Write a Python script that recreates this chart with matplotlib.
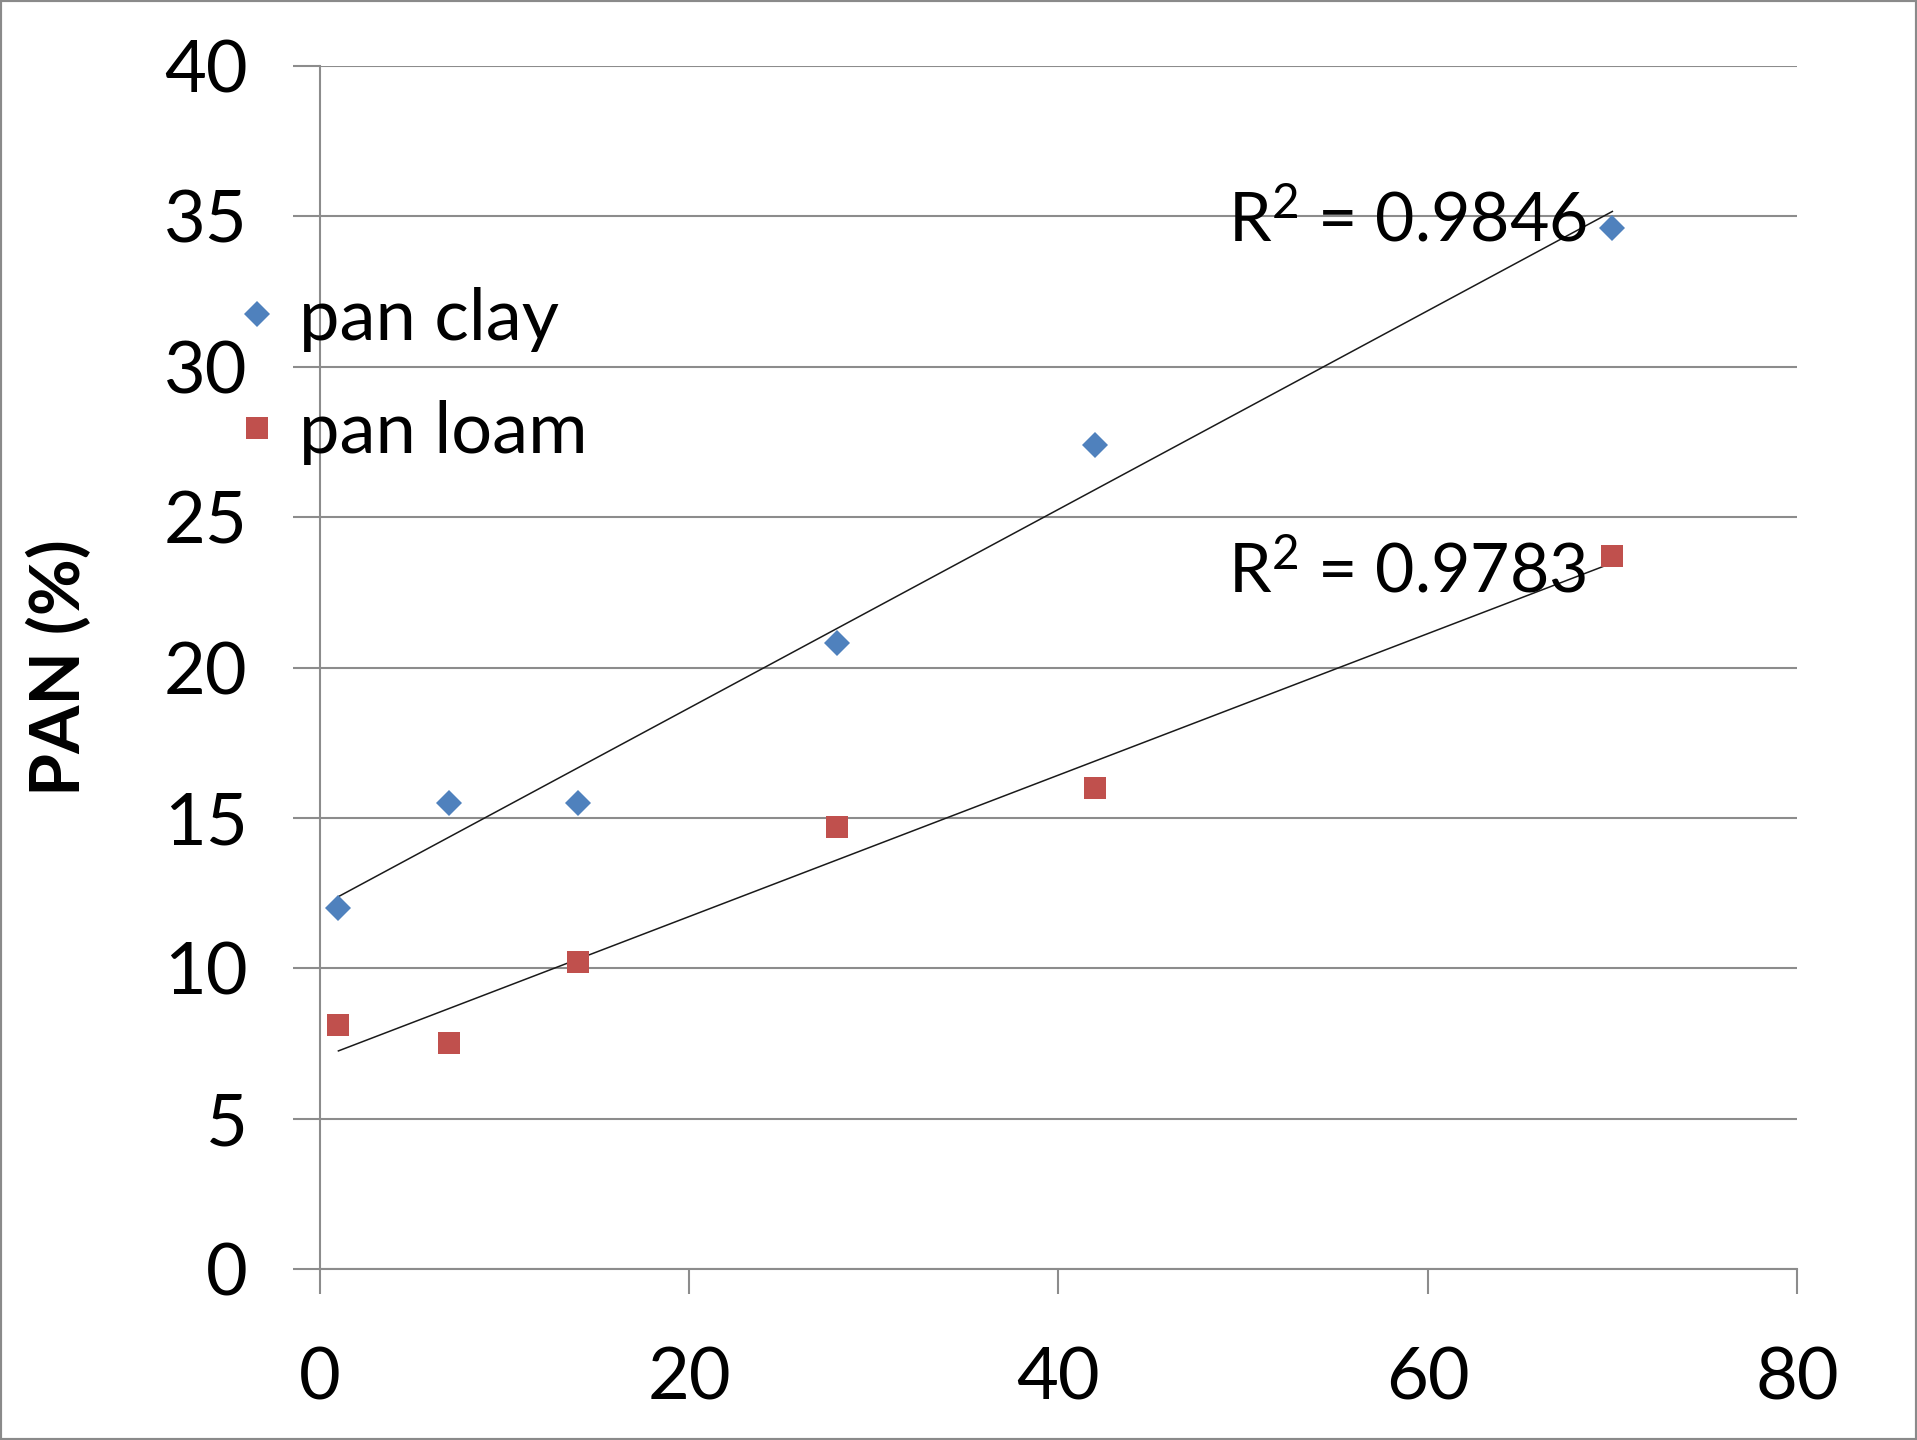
import numpy as np
import matplotlib
matplotlib.use("Agg")
from matplotlib import pyplot as plt
from matplotlib.patches import Rectangle

# days after application vs. PAN (%)
days = [1, 7, 14, 28, 42, 70]
pan_clay = [12.0, 15.5, 15.5, 20.8, 27.4, 34.6]
pan_loam = [8.1, 7.5, 10.2, 14.7, 16.0, 23.7]
r2_labels = {"pan clay": "R$^2$ = 0.9846", "pan loam": "R$^2$ = 0.9783"}
x_ticks = [0, 20, 40, 60, 80]
y_ticks = [0, 5, 10, 15, 20, 25, 30, 35, 40]

plt.rcParams["font.family"] = ["Lato", "DejaVu Sans"]
plt.rcParams["mathtext.fontset"] = "custom"
plt.rcParams["mathtext.rm"] = "Lato"
plt.rcParams["mathtext.it"] = "Lato"
plt.rcParams["mathtext.default"] = "rm"
grid_grey = "#8c8c8c"

fig = plt.figure(figsize=(19.17, 14.40), dpi=100)
ax = fig.add_axes([0.1669, 0.1187, 0.9374 - 0.1669, 0.9542 - 0.1187])

ax.plot(days, pan_clay, "D", color="#4f81bd", ms=13.5, mew=0, label="pan clay", zorder=3)
ax.plot(days, pan_loam, "s", color="#c0504d", ms=16.5, mew=0, label="pan loam", zorder=3)

# linear trend lines over the sampled range
xs = np.array([min(days), max(days)])
for ys, name, y_txt in [(pan_clay, "pan clay", 34.15), (pan_loam, "pan loam", 22.5)]:
    k, b = np.polyfit(days, ys, 1)
    ax.plot(xs, k * xs + b, color="#1a1a1a", lw=1.1, zorder=2)
    ax.text(49.2, y_txt, r2_labels[name], fontsize=49, va="baseline", ha="left", zorder=4)

ax.set_xlim(0, 80)
ax.set_ylim(0, 40)
ax.set_xticks(x_ticks)
ax.set_yticks(y_ticks)
ax.tick_params(axis="both", labelsize=52, width=1.5, color=grid_grey, direction="out")
ax.tick_params(axis="y", length=19.5, pad=32.5)
ax.tick_params(axis="x", length=18, pad=38)
ax.yaxis.grid(True, color=grid_grey, lw=1.5)
for side in ["top", "right"]:
    ax.spines[side].set_visible(False)
for side in ["left", "bottom"]:
    ax.spines[side].set_color(grid_grey)
    ax.spines[side].set_linewidth(1.5)
ax.set_axisbelow(True)

ax.set_ylabel("PAN (%)", fontsize=50, fontweight="bold", labelpad=0)
ax.yaxis.set_label_coords(-0.1544, 0.5)

fig.legend(loc="upper left", bbox_to_anchor=(0.104, 0.826), frameon=False, fontsize=52,
           handlelength=0.6, handletextpad=0.28, labelspacing=0.67, borderpad=0)

fig.add_artist(Rectangle((0, 0), 1, 1, transform=fig.transFigure, fill=False,
                         edgecolor="#8a8a8a", lw=3))

fig.savefig("out.png", dpi=100)
